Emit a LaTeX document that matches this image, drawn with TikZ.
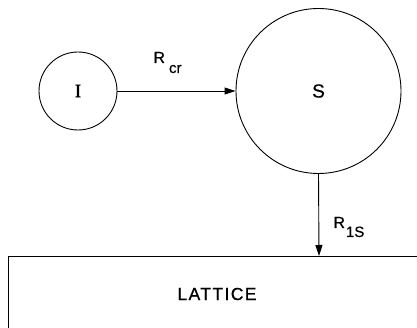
\documentclass[tikz,border=0pt]{standalone}
\usepackage{fontspec}
\setmainfont{Liberation Sans}[FakeBold=0.6]
\newfontfamily\serifI{Liberation Serif}[FakeBold=1.5]
\usetikzlibrary{arrows.meta}
\begin{document}
\begin{tikzpicture}[x=1pt,y=-1pt,
  line width=0.9pt,
  state/.style={circle,draw,inner sep=0pt,font=\fontsize{19}{19}\selectfont},
  flow/.style={-{Triangle[length=11pt,width=7pt]}},
  lbl/.style={inner sep=0pt,anchor=base west,font=\fontsize{16}{16}\selectfont}]
\clip (0,0) rectangle (417,328);
\fill[white] (0,0) rectangle (417,328);
\node[state,minimum size=78pt] (I) at (78,91) {\serifI I};
\node[state,minimum size=165pt] (S) at (318.5,91) {S};
\draw (430,256) -- (8,256) -- (8,340);
\node[inner sep=0pt,font=\fontsize{17.5}{17.5}\selectfont\addfontfeature{LetterSpace=8}] (lattice) at (217,294) {LATTICE};
\coordinate (ltop) at (319,256);
\draw[flow] (I) -- (S);
\draw[flow] (S.south) -- (ltop);
\node[lbl] (rcr) at (153,63) {R\hspace{4pt}\raisebox{-10pt}{\fontsize{15}{15}\selectfont cr}};
\node[lbl] (r1s) at (333,228) {R\hspace{1pt}\raisebox{-9pt}{\fontsize{15}{15}\selectfont 1S}};
\end{tikzpicture}
\end{document}
